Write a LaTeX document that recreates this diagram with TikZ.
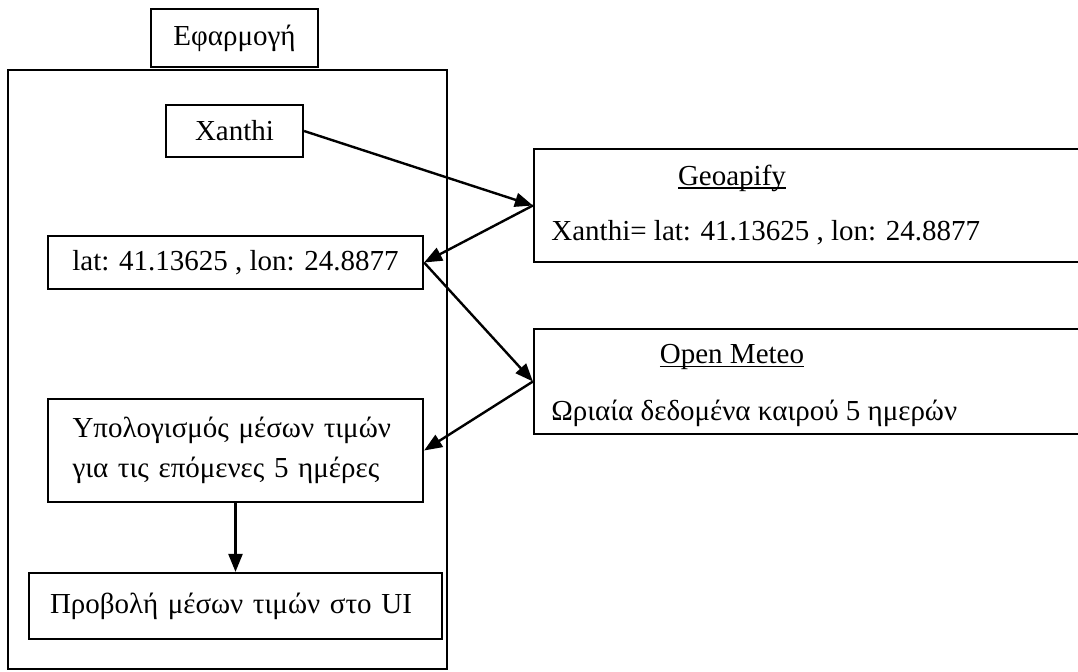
\documentclass[tikz,border=0pt]{standalone}
\usepackage{fontspec}
\setmainfont{Liberation Serif}
\usetikzlibrary{arrows.meta}

% underline that runs through the descenders, as a word processor draws it
\newcommand\ulword[1]{\setbox0\hbox{#1}\rlap{\rule[-1.8pt]{\wd0}{0.6pt}}\box0}

\tikzset{
  box/.style={draw, line width=1.1pt, inner sep=0pt},
  txt/.style={inner sep=0pt},
  flow/.style={-{Triangle[length=9pt,width=7pt]}, line width=1.2pt},
}

\begin{document}
\begin{tikzpicture}[x=0.5pt, y=-0.5pt, every node/.style={font=\fontsize{14.5}{20}\selectfont}]
  \useasboundingbox (0,0) rectangle (1078,671);

  % ===== application side =====
  \node[box, minimum width=83.5pt, minimum height=29pt] (app) at (234.5,38) {Εφαρμογή};
  \draw[line width=0.9pt] (8,70) rectangle (447,669);

  \node[box, minimum width=68.5pt, minimum height=26pt] (xanthi) at (234.5,131) {Xanthi};
  \node[box, minimum width=187.5pt, minimum height=26.5pt] (latlon) at (235.5,262.5) {lat: 41.13625 , lon: 24.8877};
  \node[box, minimum width=187.5pt, minimum height=51.5pt, text width=163pt, align=left] (calc) at (235.5,450.5)
    {\makebox[163pt][s]{Υπολογισμός μέσων τιμών}\\για τις επόμενες 5 ημέρες};
  \node[box, minimum height=33pt, inner xsep=10.5pt, text width=185.5pt, align=left] (show) at (235.5,606) {Προβολή μέσων τιμών στο UI};

  % ===== external services =====
  \node[box, minimum width=278pt, minimum height=56.5pt] (geo) at (812,205.5) {};
  \node[txt] (geotitle) at (732,178) {\ulword{Geoapify}};
  \node[txt, anchor=west] (geotext) at (551,233) {Xanthi= lat: 41.13625 , lon: 24.8877};

  \node[box, minimum width=278pt, minimum height=52.5pt] (meteo) at (812,381.5) {};
  \node[txt] (meteotitle) at (732,357) {\ulword{Open Meteo}};
  \node[txt, anchor=west] (meteotext) at (551,413) {Ωριαία δεδομένα καιρού 5 ημερών};

  % ===== requests and answers =====
  \draw[flow] (xanthi.east) -- (geo.west);
  \draw[flow] (geo.west) -- (latlon.east);
  \draw[flow] (latlon.east) -- (meteo.west);
  \draw[flow] (meteo.west) -- (calc.east);
  \draw[flow] (calc.south) -- (show.north);
\end{tikzpicture}
\end{document}
